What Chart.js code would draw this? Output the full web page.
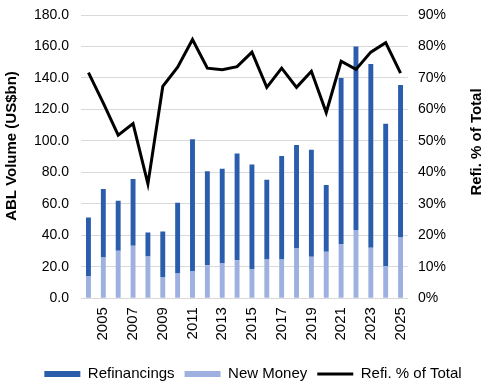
<!DOCTYPE html>
<html>
<head>
<meta charset="utf-8">
<script src="https://cdn.jsdelivr.net/npm/chart.js@4"></script>
<style>
  html, body { margin: 0; padding: 0; background: #fff; }
  #wrap { position: relative; width: 491px; height: 387px; }
</style>
</head>
<body>
<div id="wrap"><canvas id="chart"></canvas></div>
<script>
const years = ['2004','2005','2006','2007','2008','2009','2010','2011','2012','2013','2014',
  '2015','2016','2017','2018','2019','2020','2021','2022','2023','2024','2025'];
const refinancings = [37.1, 43.6, 31.8, 42.5, 15.3, 28.9, 45.0, 83.7, 59.8, 59.8, 67.9,
  66.6, 50.8, 65.8, 65.7, 68.0, 42.4, 105.6, 116.7, 116.8, 90.5, 96.9];
const newMoney = [14.1, 25.8, 30.1, 33.3, 26.5, 13.4, 15.6, 17.3, 20.9, 22.4, 24.1,
  18.4, 24.5, 24.5, 31.6, 26.3, 29.5, 34.4, 43.3, 32.0, 20.3, 38.6];
const refiPct = [71.7, 62.0, 51.8, 55.5, 36.3, 67.3, 73.4, 82.2, 73.1, 72.6, 73.6,
  78.2, 67.0, 73.1, 67.0, 72.1, 59.0, 75.3, 72.7, 78.2, 81.2, 71.5];

const FONT = "'Liberation Sans', Arial, sans-serif";
const legendRank = { 1: 0, 0: 1, 2: 2 };

function drawRotated(ctx, text, x, y) {
  ctx.save();
  ctx.translate(x, y);
  ctx.rotate(-Math.PI / 2);
  ctx.font = 'bold 15px ' + FONT;
  ctx.fillStyle = '#000';
  ctx.textAlign = 'center';
  ctx.textBaseline = 'middle';
  ctx.fillText(text, 0, 0);
  ctx.restore();
}

// axis titles drawn by hand (right one reads bottom-to-top), legend nudged into place
const tweaks = {
  id: 'tweaks',
  afterLayout(chart) {
    const lg = chart.legend;
    lg.left += 25; lg.right += 25;
    lg.top += 15; lg.bottom += 15;
  },
  afterDraw(chart) {
    drawRotated(chart.ctx, 'ABL Volume (US$bn)', 12, 146);
    drawRotated(chart.ctx, 'Refi. % of Total', 477, 142);
  }
};

const noTopPad = scale => { scale.paddingTop = 0; };

new Chart(document.getElementById('chart'), {
  type: 'bar',
  data: {
    labels: years,
    datasets: [
      { label: 'New Money', data: newMoney, backgroundColor: '#9DB0DF', yAxisID: 'y', order: 1,
        pointStyle: 'rect', barPercentage: 0.66, categoryPercentage: 0.5 },
      { label: 'Refinancings', data: refinancings, backgroundColor: '#2B5DAD', yAxisID: 'y', order: 1,
        pointStyle: 'rect', barPercentage: 0.66, categoryPercentage: 0.5 },
      { type: 'line', label: 'Refi. % of Total', data: refiPct, yAxisID: 'y1', order: 0,
        borderColor: '#000', backgroundColor: '#000', borderWidth: 3, pointRadius: 0,
        pointStyle: 'line', tension: 0 }
    ]
  },
  options: {
    responsive: true,
    maintainAspectRatio: false,
    animation: false,
    layout: { padding: { left: 0, right: 35, top: 15, bottom: 10.5 } },
    plugins: {
      tooltip: { enabled: false },
      legend: {
        position: 'bottom',
        labels: {
          font: { family: FONT, size: 15 },
          color: '#000',
          usePointStyle: true,
          pointStyleWidth: 36,
          boxHeight: 6,
          padding: 10,
          sort: (a, b) => legendRank[a.datasetIndex] - legendRank[b.datasetIndex]
        }
      }
    },
    scales: {
      x: {
        stacked: true,
        grid: { display: false },
        border: { display: false },
        ticks: {
          autoSkip: false, minRotation: 90, maxRotation: 90, padding: 1,
          font: { family: FONT, size: 15 }, color: '#000',
          callback: (v, i) => (i % 2 === 1 ? years[i] : '')
        }
      },
      y: {
        stacked: true,
        min: 0, max: 180,
        afterFit: noTopPad,
        ticks: { stepSize: 20, font: { family: FONT, size: 14 }, color: '#000', padding: 12,
          callback: v => v.toFixed(1) },
        grid: { color: '#D9D9D9', lineWidth: 1, drawTicks: false },
        border: { display: false },
        title: { display: true, text: 'ABL Volume (US$bn)', font: { family: FONT, size: 15, weight: 'bold' },
          color: 'rgba(0,0,0,0)', padding: { top: 0, bottom: 4 } }
      },
      y1: {
        position: 'right',
        min: 0, max: 90,
        afterFit: noTopPad,
        ticks: { stepSize: 10, font: { family: FONT, size: 14 }, color: '#000', padding: 10,
          callback: v => v + '%' },
        grid: { display: false, drawTicks: false },
        border: { display: false }
      }
    }
  },
  plugins: [tweaks]
});
</script>
</body>
</html>
